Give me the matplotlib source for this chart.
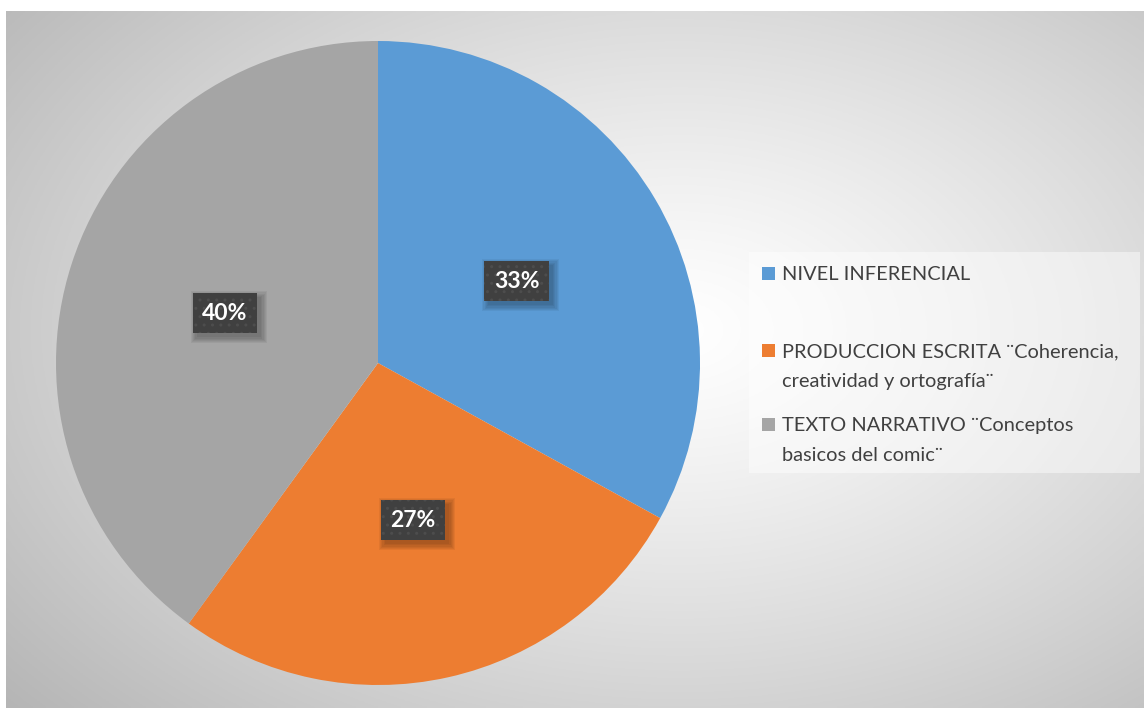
import numpy as np
import matplotlib.pyplot as plt
from matplotlib.patches import Rectangle
from matplotlib.transforms import IdentityTransform

categorias = ['NIVEL INFERENCIAL',
              'PRODUCCION ESCRITA ¨Coherencia,\ncreatividad y ortografía¨',
              'TEXTO NARRATIVO ¨Conceptos\nbasicos del comic¨']
valores = [33, 27, 40]
colores = ['#5b9bd5', '#ed7d31', '#a5a5a5']

W, H = 1144, 708
fig = plt.figure(figsize=(W / 100, H / 100), dpi=100)
fig.patch.set_facecolor('white')

# fondo con degradado radial
bg = fig.add_axes([6 / W, 0, 1 - 6 / W, (H - 11) / H])
xx, yy = np.meshgrid(np.linspace(6, W, 400), np.linspace(11, H, 300))
d = np.sqrt(((xx - 680) / 640) ** 2 + ((yy - 330) / 420) ** 2)
g = (255 - 50 * d ** 1.2) / 255
g = np.clip(g, 0, 1)
bg.imshow(np.dstack([g, g, g]), aspect='auto', extent=[0, 1, 0, 1])
bg.set_axis_off()

# pastel
cx, cy, r = 378, 363, 322
ax = fig.add_axes([(cx - r) / W, (H - cy - r) / H, 2 * r / W, 2 * r / H])
wedges, _, autotexts = ax.pie(valores, colors=colores, startangle=90, counterclock=False,
                              autopct='%1.0f%%', pctdistance=0.5, radius=1,
                              wedgeprops=dict(linewidth=0))
ax.set_xlim(-1, 1)
ax.set_ylim(-1, 1)
ax.set_axis_off()

for t in autotexts:
    t.set_color('white')
    t.set_fontsize(16.5)
    t.set_fontweight('bold')
    t.set_fontfamily('Lato')
    t.set_bbox(dict(boxstyle='square,pad=0.42', facecolor='#404040', edgecolor='#4d4d4d',
                    linewidth=0, hatch='..'))

# sombra suave debajo de las etiquetas
fig.canvas.draw()
for t in autotexts:
    bb = t.get_bbox_patch().get_window_extent()
    for k in range(6):
        s = k * 1.2
        ax.add_patch(Rectangle((bb.x0 + 2 - s + 2, bb.y0 - 3 - s - 1), bb.width + 2 * s,
                               bb.height + 2 * s, transform=IdentityTransform(),
                               facecolor='black', alpha=0.05, edgecolor='none', zorder=2.5))

# leyenda
fig.patches.append(Rectangle((749 / W, 1 - 473 / H), (1140 - 749) / W, (473 - 252) / H,
                             transform=fig.transFigure, facecolor='white', alpha=0.45,
                             edgecolor='none'))
ys = [280, 357, 431]
for cat, col, y in zip(categorias, colores, ys):
    fig.patches.append(Rectangle((762 / W, 1 - y / H), 13 / W, 13 / H,
                                 transform=fig.transFigure, facecolor=col, edgecolor='none'))
    for i, linea in enumerate(cat.split('\n')):
        fig.text(782 / W, 1 - (y + 30 * i) / H, linea, fontsize=14.4, family='Lato',
                 color='#404040', va='baseline', ha='left')
fig.savefig('out.png', dpi=100)
